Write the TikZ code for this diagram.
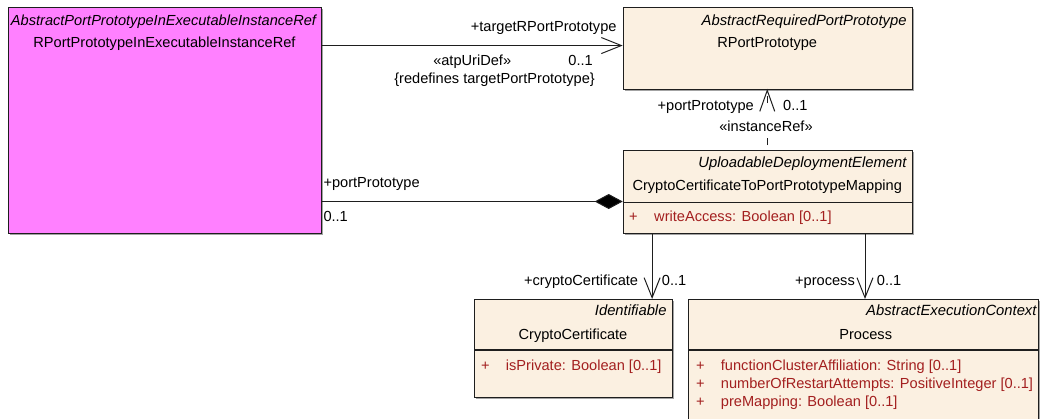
\documentclass[tikz,border=0pt]{standalone}
\usepackage{fontspec}
\setmainfont{Liberation Sans}
\usetikzlibrary{arrows.meta,shadows}
\definecolor{pinkfill}{RGB}{255,128,255}
\definecolor{beige}{RGB}{251,240,225}
\definecolor{attr}{RGB}{163,31,31}
\definecolor{edge}{RGB}{30,30,30}
\tikzset{
  txt/.style={font=\fontsize{14.6}{17}\selectfont, inner sep=0pt, text=black},
  ster/.style={txt, font=\fontsize{14.8}{17}\selectfont\itshape},
  attrtxt/.style={txt, text=attr},
  classbox/.style={draw=edge, line width=1.1pt, fill=beige, anchor=north west, inner sep=0pt,
    drop shadow={shadow xshift=1.3pt, shadow yshift=-1.3pt, fill=black!60, opacity=0.6}},
  conn/.style={draw=edge, line width=1pt},
  openarrow/.style={conn, -{Straight Barb[length=20pt, width=16pt, line width=1pt]}},
  comp/.style={conn, {Diamond[length=28pt, width=15pt, fill=black]}-}
}
\begin{document}
\begin{tikzpicture}[x=1pt,y=-1pt]
\clip (0,0) rectangle (1043,418);
\useasboundingbox (0,0) rectangle (1043,418);

% boxes
\node[classbox, fill=pinkfill, minimum width=313pt, minimum height=226pt] (pink) at (8,7) {};
\node[classbox, minimum width=289pt, minimum height=82pt] (rport) at (622.7,7.3) {};
\node[classbox, minimum width=289pt, minimum height=83.3pt] (mapping) at (622.7,150) {};
\node[classbox, minimum width=197.4pt, minimum height=97.7pt] (crypto) at (474.3,299) {};
\node[classbox, minimum width=350pt, minimum height=140pt] (process) at (688.3,299) {};

% separators
\draw[conn, line width=1.1pt] ([yshift=-52.3pt]mapping.north west) -- ([yshift=-52.3pt]mapping.north east);
\draw[conn, line width=1.1pt] ([yshift=-51pt]crypto.north west) -- ([yshift=-51pt]crypto.north east);
\draw[conn, line width=1.1pt] ([yshift=-51pt]process.north west) -- ([yshift=-51pt]process.north east);

% box texts
\node[ster, font=\fontsize{14.6}{17}\selectfont\itshape, anchor=base] (pinkst) at (163.5,25) {AbstractPortPrototypeInExecutableInstanceRef};
\node[txt, anchor=base] (pinknm) at (164.5,47) {RPortPrototypeInExecutableInstanceRef};

\node[ster, anchor=base east] (rportst) at (906.7,25) {AbstractRequiredPortPrototype};
\node[txt, anchor=base] (rportnm) at (767.2,47) {RPortPrototype};

\node[ster, anchor=base east] (mapst) at (906.7,167.7) {UploadableDeploymentElement};
\node[txt, anchor=base] (mapnm) at (767.2,190) {CryptoCertificateToPortPrototypeMapping};
\node[attrtxt, anchor=base west] (mapp1) at (629,221.7) {+};
\node[attrtxt, anchor=base west] (mapa1) at (654,221.7) {writeAccess: Boolean [0..1]};

\node[ster, anchor=base east] (cryst) at (666.7,315) {Identifiable};
\node[txt, anchor=base] (crynm) at (573,339) {CryptoCertificate};
\node[attrtxt, anchor=base west] (cryp1) at (481,370.7) {+};
\node[attrtxt, anchor=base west] (crya1) at (505.7,370.7) {isPrivate: Boolean [0..1]};

\node[ster, anchor=base east] (prost) at (1036.7,315) {AbstractExecutionContext};
\node[txt, anchor=base] (pronm) at (865.7,339) {Process};
\node[attrtxt, anchor=base west] (prop1) at (696,370.7) {+};
\node[attrtxt, anchor=base west] (proa1) at (720.7,370.7) {functionClusterAffiliation: String [0..1]};
\node[attrtxt, anchor=base west] (prop2) at (696,388.3) {+};
\node[attrtxt, anchor=base west] (proa2) at (720.7,388.3) {numberOfRestartAttempts: PositiveInteger [0..1]};
\node[attrtxt, anchor=base west] (prop3) at (696,406.7) {+};
\node[attrtxt, anchor=base west] (proa3) at (720.7,406.7) {preMapping: Boolean [0..1]};

% connector: pink -> rport
\coordinate (t1) at ([yshift=3.3pt]rport.west);
\draw[openarrow] (pink.east |- t1) -- (t1);
\node[txt, anchor=base east] (l1) at (616.7,31.7) {+targetRPortPrototype};
\node[txt, anchor=base] (l2) at (472.2,65) {«atpUriDef»};
\node[txt, anchor=base east] (l3) at (593,65.7) {0..1};
\node[txt, anchor=base east] (l4) at (595,83.5) {\{redefines targetPortPrototype\}};

% connector: mapping -> rport (instanceRef, dashed)
\coordinate (t2) at ([xshift=-0.5pt]rport.south);
\draw[conn, dash pattern=on 7pt off 35pt, dash phase=37pt] (mapping.north -| t2) -- (t2);
\draw[conn, line join=miter] ([xshift=-7.5pt,yshift=-21pt]t2) -- (t2) -- ([xshift=7.5pt,yshift=-21pt]t2);
\node[txt, anchor=base east] (l5) at (754,110) {+portPrototype};
\node[txt, anchor=base west] (l6) at (783,110) {0..1};
\node[txt, anchor=base] (l7) at (766,131.7) {«instanceRef»};

% connector: mapping <>- pink
\coordinate (t3) at ([yshift=-9.3pt]mapping.west);
\draw[comp] (t3) -- (pink.east |- t3);
\node[txt, anchor=base west] (l8) at (323.3,187.7) {+portPrototype};
\node[txt, anchor=base west] (l9) at (323.3,221) {0..1};

% connector: mapping -> crypto
\coordinate (t4) at ([xshift=-20.7pt]crypto.north east);
\draw[openarrow] (mapping.south -| t4) -- (t4);
\node[txt, anchor=base east] (l10) at (638.3,285) {+cryptoCertificate};
\node[txt, anchor=base west] (l11) at (661.7,285) {0..1};

% connector: mapping -> process
\coordinate (t5) at ([xshift=176.7pt]process.north west);
\draw[openarrow] (mapping.south -| t5) -- (t5);
\node[txt, anchor=base east] (l12) at (855,285) {+process};
\node[txt, anchor=base west] (l13) at (876.7,285) {0..1};
\end{tikzpicture}
\end{document}
